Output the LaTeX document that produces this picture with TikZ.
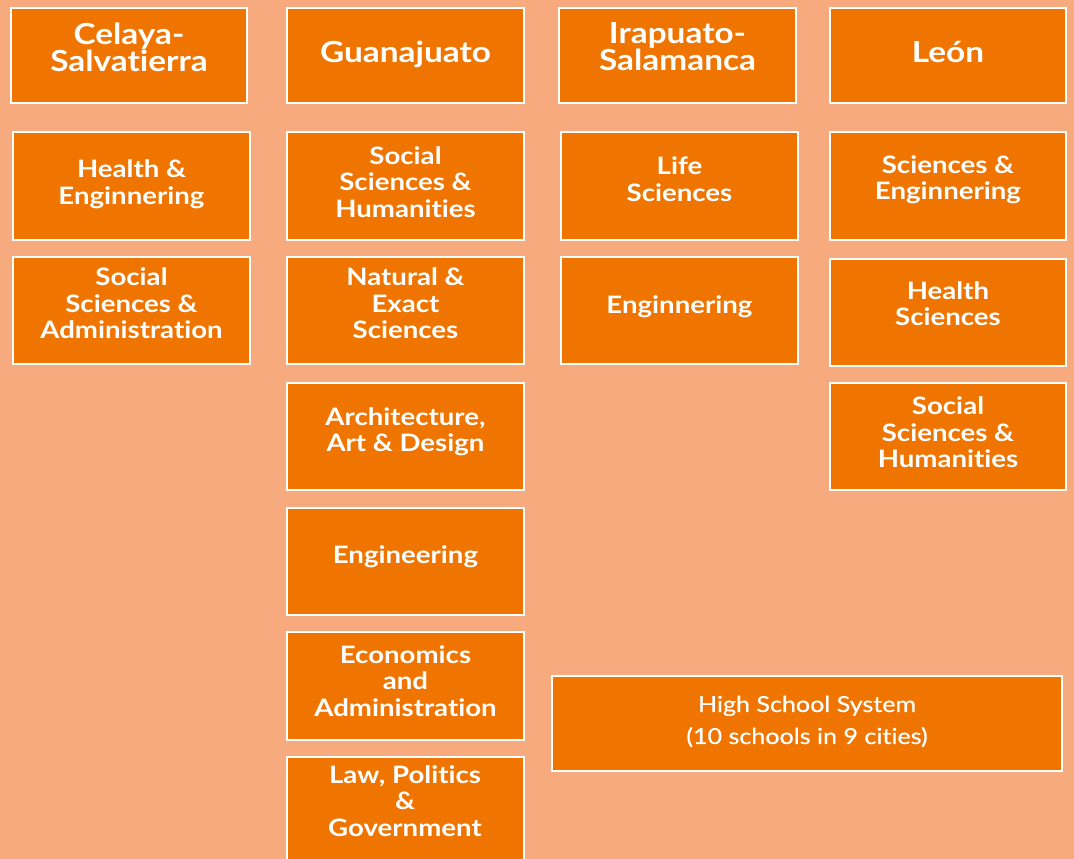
\documentclass[tikz,border=0pt]{standalone}
\usepackage{fontspec}
\setmainfont{Lato}[FakeStretch=1.15, Ligatures=NoCommon]
\newfontfamily\hsfont{Lato}[FakeStretch=1.14, FakeBold=0.6, Ligatures=NoCommon]
\definecolor{bgorange}{RGB}{246,170,125}
\definecolor{boxorange}{RGB}{240,117,0}
\tikzset{
  ubox/.style={draw=white, line width=2.5pt, fill=boxorange, inner sep=0pt},
  utext/.style={text=white, align=center, inner sep=0pt},
  head/.style={utext, font=\bfseries\fontsize{29}{27}\selectfont},
  dept/.style={utext, font=\bfseries\fontsize{24}{26.5}\selectfont},
  hs/.style={utext, font=\hsfont\fontsize{22}{32}\selectfont}
}
\newcommand{\ubx}[8]{%
  \pgfmathsetmacro{\bxw}{#4-#2}\pgfmathsetmacro{\bxh}{#5-#3}%
  \node[ubox, minimum width=\bxw pt, minimum height=\bxh pt] (#1) at ({(#2+#4)/2},{(#3+#5)/2}) {};
  \node[#6, yshift=#7pt] (#1-t) at (#1.center) {#8};}
\begin{document}
\begin{tikzpicture}[x=1pt,y=-1pt]
\useasboundingbox (0,0) rectangle (1074,859);
\clip (0,0) rectangle (1074,859);
\fill[bgorange] (0,0) rectangle (1074,859);
% headers
\ubx{cel}{11}{8}{247}{103}{head}{8}{Celaya-\\Salvatierra}
\ubx{gto}{287}{8}{524}{103}{head}{1}{Guanajuato}
\ubx{ira}{559}{8}{796}{103}{head}{9}{Irapuato-\\Salamanca}
\ubx{leo}{830}{8}{1066}{103}{head}{3}{León}
% Celaya
\ubx{cel1}{13}{132}{250}{240}{dept}{2}{Health \&\\Enginnering}
\ubx{cel2}{13}{257}{250}{364}{dept}{7}{Social\\Sciences \&\\Administration}
% Guanajuato
\ubx{gto1}{287}{132}{524}{240}{dept}{4}{Social\\Sciences \&\\Humanities}
\ubx{gto2}{287}{257}{524}{364}{dept}{7}{Natural \&\\Exact\\Sciences}
\ubx{gto3}{287}{383}{524}{490}{dept}{5}{Architecture,\\Art \& Design}
\ubx{gto4}{287}{508}{524}{615}{dept}{5}{Engineering}
\ubx{gto5}{287}{632}{524}{740}{dept}{5}{Economics\\and\\Administration}
\ubx{gto6}{287}{757}{524}{900}{dept}{0}{}
\node[dept] (gto6-l) at (405,801) {Law, Politics\\\&\\Government};
% Irapuato
\ubx{ira1}{561}{132}{798}{240}{dept}{7}{Life\\Sciences}
\ubx{ira2}{561}{257}{798}{364}{dept}{4}{Enginnering}
% Leon
\ubx{leo1}{830}{132}{1066}{240}{dept}{6}{Sciences \&\\Enginnering}
\ubx{leo2}{830}{259}{1066}{366}{dept}{9}{Health\\Sciences}
\ubx{leo3}{830}{383}{1066}{490}{dept}{4}{Social\\Sciences \&\\Humanities}
% High school
\ubx{hss}{552}{676}{1062}{771}{hs}{2}{High School System\\(10 schools in 9 cities)}
\end{tikzpicture}
\end{document}
